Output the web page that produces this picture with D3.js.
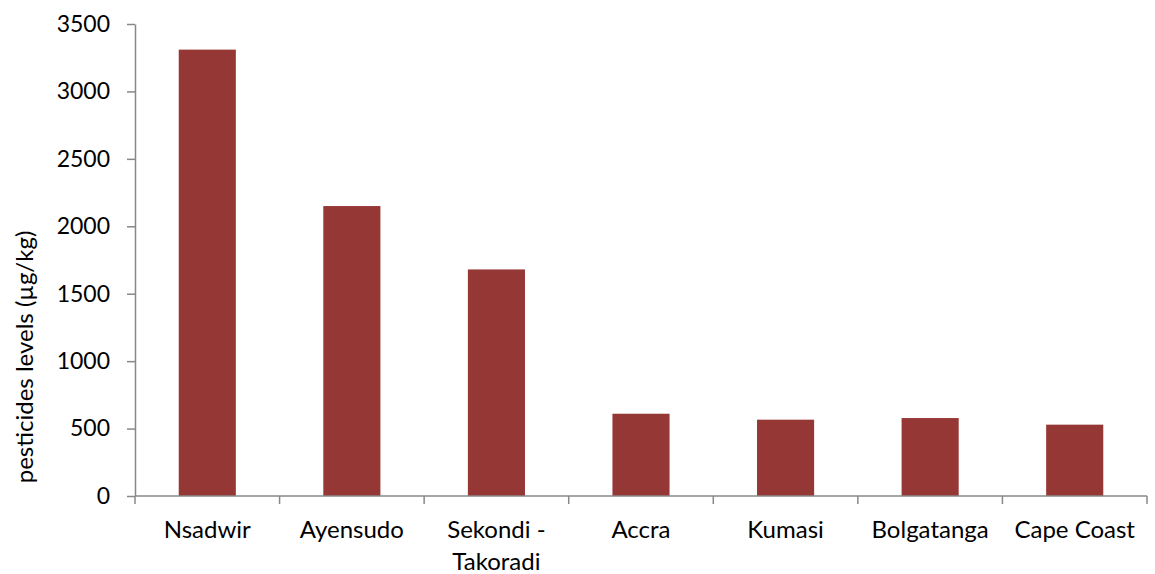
<!DOCTYPE html>
<html>
<head>
<meta charset="utf-8">
<script src="https://cdn.jsdelivr.net/npm/d3@7"></script>
<style>
  html, body { margin: 0; padding: 0; background: #fff; }
  svg { display: block; }
  text { font-family: Lato, "Open Sans", sans-serif; fill: #000; }
</style>
</head>
<body>
<svg id="chart" width="1155" height="574"></svg>
<script>
const categories = ["Nsadwir", "Ayensudo", "Sekondi - Takoradi", "Accra", "Kumasi", "Bolgatanga", "Cape Coast"];
const labelLines = [["Nsadwir"], ["Ayensudo"], ["Sekondi -", "Takoradi"], ["Accra"], ["Kumasi"], ["Bolgatanga"], ["Cape Coast"]];
const values = [3310, 2150, 1680, 610, 566, 578, 529];
const yTicks = [0, 500, 1000, 1500, 2000, 2500, 3000, 3500];
const yTitle = "pesticides levels (µg/kg)";

const svg = d3.select("#chart");
const mLeft = 135, mRight = 1147, mTop = 24, mBottom = 496;

const x = d3.scaleBand().domain(categories).range([mLeft, mRight]).paddingInner(0.605).paddingOuter(0.3025);
const y = d3.scaleLinear().domain([0, 3500]).range([mBottom, mTop]);

const axisColor = "#888888";

// bars
svg.append("g").selectAll("rect").data(values).join("rect")
  .attr("x", (d, i) => x(categories[i]))
  .attr("y", d => y(d))
  .attr("width", x.bandwidth())
  .attr("height", d => y(0) - y(d))
  .attr("fill", "#953735");

// y axis
const yAxis = svg.append("g").attr("transform", `translate(${mLeft},0)`)
  .call(d3.axisLeft(y).tickValues(yTicks).tickFormat(d3.format("d")).tickSize(8).tickPadding(17).tickSizeOuter(0));
yAxis.select(".domain").attr("stroke", axisColor).attr("stroke-width", 1.5);
yAxis.selectAll(".tick line").attr("stroke", axisColor).attr("stroke-width", 1.5);
yAxis.selectAll(".tick text").attr("font-size", 23).attr("font-family", "Lato, sans-serif").attr("fill", "#000");

// x axis: boundary ticks
const step = x.step();
const boundaries = d3.range(categories.length + 1).map(i => mLeft + i * step);
svg.append("line")
  .attr("x1", mLeft).attr("x2", mRight).attr("y1", mBottom).attr("y2", mBottom)
  .attr("stroke", axisColor).attr("stroke-width", 1.5);
svg.append("g").selectAll("line").data(boundaries).join("line")
  .attr("x1", d => d).attr("x2", d => d)
  .attr("y1", mBottom).attr("y2", mBottom + 8)
  .attr("stroke", axisColor).attr("stroke-width", 1.5);

// x labels
const xl = svg.append("g").selectAll("text").data(categories).join("text")
  .attr("x", d => x(d) + x.bandwidth() / 2)
  .attr("y", 538)
  .attr("text-anchor", "middle")
  .attr("font-size", 24);
xl.each(function(d, i) {
  const t = d3.select(this);
  labelLines[i].forEach((ln, j) => {
    t.append("tspan").attr("x", x(d) + x.bandwidth() / 2).attr("dy", j === 0 ? 0 : 32).text(ln);
  });
});

// y title
svg.append("text")
  .attr("transform", "translate(33,357) rotate(-90)")
  .attr("text-anchor", "middle")
  .attr("font-size", 24)
  .text(yTitle);
</script>
</body>
</html>
